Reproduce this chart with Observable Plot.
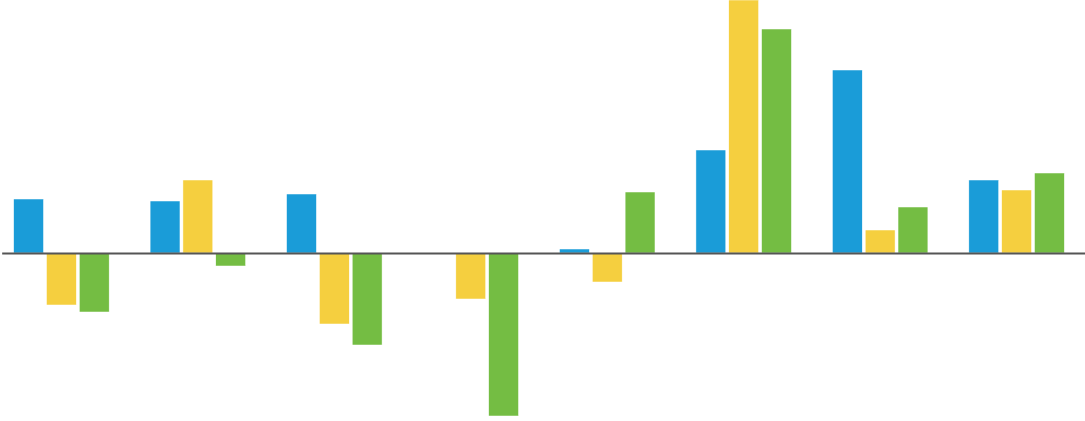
<!DOCTYPE html>
<html>
<head>
<meta charset="utf-8">
<script src="https://cdn.jsdelivr.net/npm/d3@7"></script>
<script src="https://cdn.jsdelivr.net/npm/@observablehq/plot@0.6"></script>
<style>
  html, body { margin: 0; padding: 0; background: #fff; }
</style>
</head>
<body>
<div id="chart"></div>
<script>
const groups = ["G1", "G2", "G3", "G4", "G5", "G6", "G7", "G8"];
const series = ["A", "B", "C"];
const valuesA = [54, 52, 59, 0, 4, 103, 183, 73];
const valuesB = [-52, 73, -71, -46, -29, 253, 23, 63];
const valuesC = [-59, -13, -92, -163, 61, 224, 46, 80];
const colors = ["#1a9cd8", "#f5cf3f", "#74bd43"];

const seriesValues = [valuesA, valuesB, valuesC];
const data = [];
groups.forEach((g, i) => {
  series.forEach((s, j) => {
    data.push({group: g, series: s, value: seriesValues[j][i]});
  });
});

const chart = Plot.plot({
  width: 1085,
  height: 421,
  marginLeft: 0,
  marginRight: 7,
  marginTop: 0,
  marginBottom: 0,
  fx: {domain: groups, paddingInner: 0.3, paddingOuter: 0.1, round: false, axis: null, label: null},
  x: {domain: series, paddingInner: 0.09, paddingOuter: 0, round: false, axis: null},
  y: {domain: [-168, 253], axis: null},
  color: {domain: series, range: colors},
  marks: [
    Plot.barY(data, {fx: "group", x: "series", y: "value", fill: "series", stroke: "white", strokeWidth: 0.5}),
  ]
});

const wrap = document.createElement("div");
wrap.style.position = "relative";
wrap.style.width = "1085px";
wrap.style.height = "421px";
wrap.appendChild(chart);

const zero = Plot.plot({
  width: 1085,
  height: 421,
  marginLeft: 0,
  marginRight: 0,
  marginTop: 0,
  marginBottom: 0,
  x: {domain: [0, 1], axis: null},
  y: {domain: [-168, 253], axis: null},
  style: {background: "transparent"},
  marks: [Plot.ruleY([0], {x1: 0.002, x2: 1, stroke: "#555", strokeWidth: 2})]
});
zero.style.position = "absolute";
zero.style.left = "0";
zero.style.top = "0";
wrap.appendChild(zero);

document.getElementById("chart").appendChild(wrap);
</script>
</body>
</html>
